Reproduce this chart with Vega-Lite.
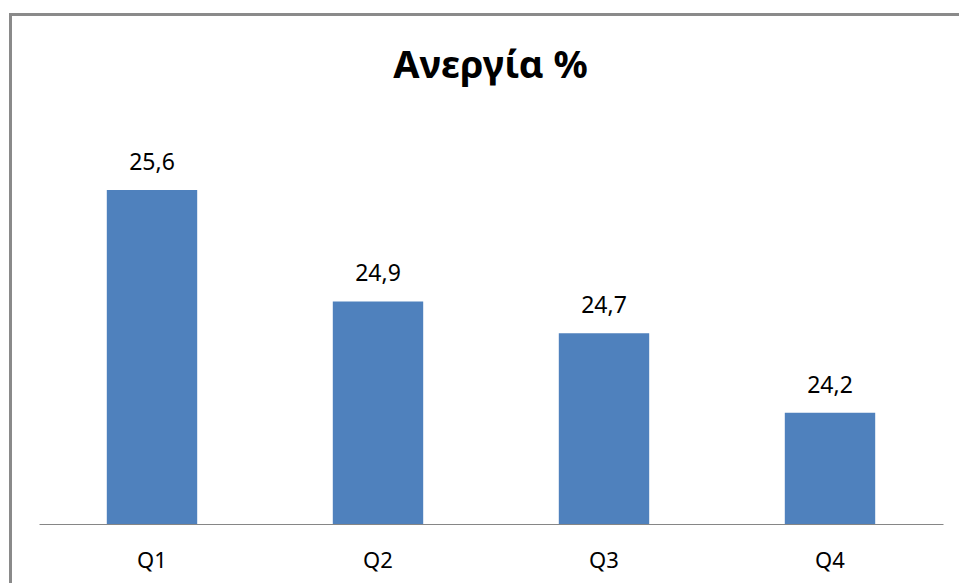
{
  "$schema": "https://vega.github.io/schema/vega-lite/v6.json",
  "autosize": {"type": "none"},
  "padding": {"left": 10.5, "top": 14.5, "right": -2, "bottom": -3},
  "width": 950,
  "height": 571,
  "background": "white",
  "config": {"view": {"stroke": "#8a8a8a", "strokeWidth": 3}},
  "title": {"text": "Ανεργία %", "font": "Noto Sans", "fontSize": 38, "fontWeight": "bold", "color": "#000000", "baseline": "alphabetic", "offset": -101.5, "dx": 5, "anchor": "middle", "frame": "group"},
  "data": {"values": [
    {"q": "Q1", "value": 25.6, "label": "25,6"},
    {"q": "Q2", "value": 24.9, "label": "24,9"},
    {"q": "Q3", "value": 24.7, "label": "24,7"},
    {"q": "Q4", "value": 24.2, "label": "24,2"}
  ]},
  "encoding": {
    "x": {"field": "q", "type": "nominal", "sort": null,
      "scale": {"range": [28.5, 932.5], "paddingInner": 0.6, "paddingOuter": 0.3},
      "axis": {"title": null, "offset": -61.5, "domainColor": "#868686", "domainWidth": 1, "ticks": false, "tickSize": 0, "labelAngle": 0, "labelFont": "Noto Sans", "labelFontSize": 22, "labelColor": "#000000", "labelBaseline": "alphabetic", "labelPadding": 43.5, "grid": false}},
    "y": {"field": "value", "type": "quantitative",
      "scale": {"domain": [23.5, 26], "range": [509.5, 112], "zero": false, "nice": false},
      "axis": null}
  },
  "layer": [
    {"mark": {"type": "bar", "color": "#4F81BD"},
     "encoding": {"y2": {"datum": 23.5}}},
    {"mark": {"type": "text", "baseline": "alphabetic", "dy": -20, "font": "Noto Sans", "fontSize": 23, "color": "#000000"},
     "encoding": {"text": {"field": "label"}}}
  ]
}
